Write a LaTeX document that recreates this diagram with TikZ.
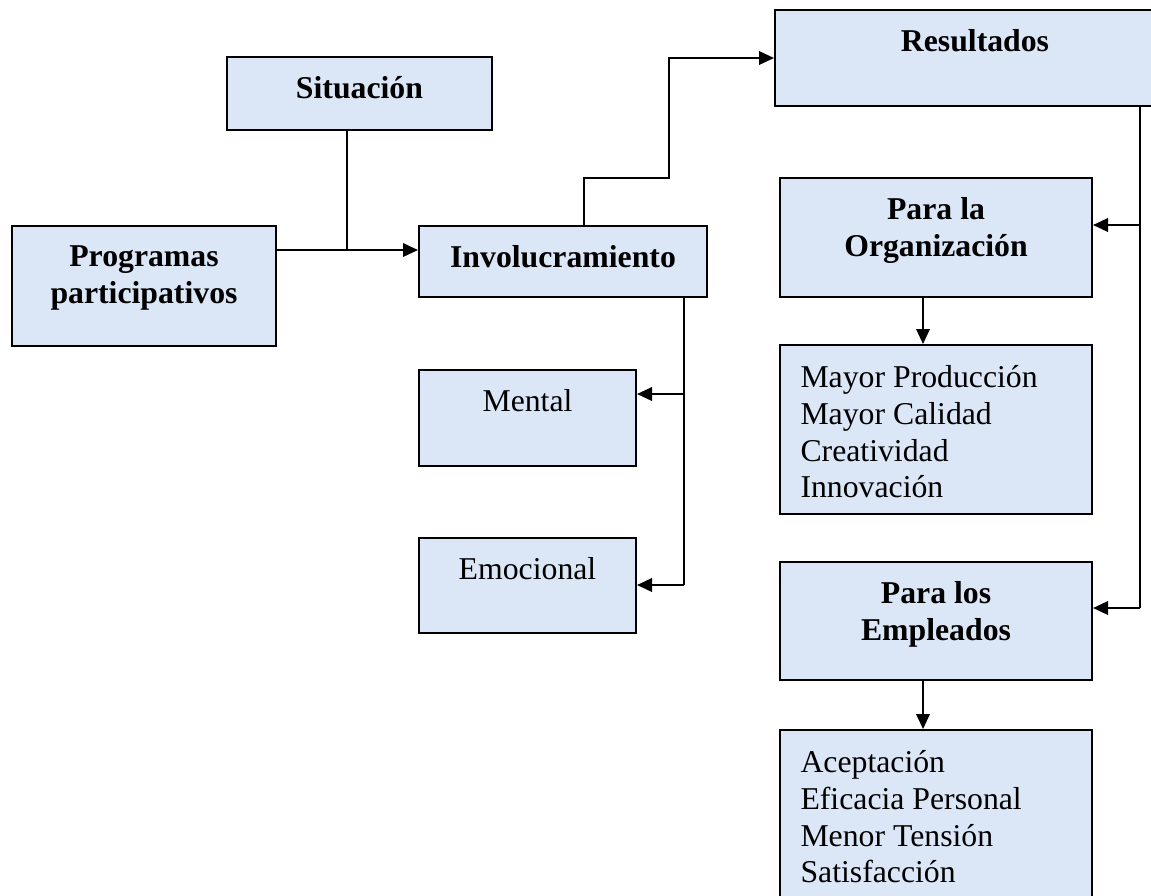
\documentclass[tikz,border=0pt]{standalone}
\usepackage{fontspec}
\setmainfont{Liberation Serif}
\usetikzlibrary{arrows.meta,positioning}
\definecolor{paper}{RGB}{219,230,246}

\begin{document}
\begin{tikzpicture}[x=0.4pt, y=-0.4pt, >={Triangle[length=6pt,width=5.4pt]},
  box/.style={draw, line width=0.8pt, fill=paper, inner sep=0pt},
  head/.style={inner sep=0pt, align=center, font=\fontsize{12.7}{14.7}\selectfont\bfseries},
  body/.style={inner sep=0pt, align=left, font=\fontsize{12.7}{14.7}\selectfont},
  link/.style={line width=0.8pt}]
  \clip (0,0) rectangle (1151,895);
  % boxes
  \node[box, minimum width=106pt, minimum height=29.2pt] (sit) at (359.5,93.5) {};
  \node[box, minimum width=105.6pt, minimum height=48pt] (prog) at (144,286) {};
  \node[box, minimum width=115.2pt, minimum height=28.4pt] (inv) at (563,261.5) {};
  \node[box, minimum width=86.8pt, minimum height=38.4pt] (ment) at (527.5,418) {};
  \node[box, minimum width=86.8pt, minimum height=38pt] (emo) at (527.5,585.5) {};
  \node[box, minimum width=160pt, minimum height=38.4pt] (res) at (975,58) {};
  \node[box, minimum width=124.8pt, minimum height=47.6pt] (org) at (936,237.5) {};
  \node[box, minimum width=124.8pt, minimum height=67.6pt] (orglist) at (936,429.5) {};
  \node[box, minimum width=124.8pt, minimum height=47.2pt] (emp) at (936,621) {};
  \node[box, minimum width=124.8pt, minimum height=80pt] (emplist) at (936,830) {};
  % texts
  \node[head, below=8pt of sit.north] (sitT) {Situación};
  \node[head, below=8pt of prog.north] (progT) {Programas\\participativos};
  \node[head, below=8pt of inv.north] (invT) {Involucramiento};
  \node[body, below=8pt of ment.north] (mentT) {Mental};
  \node[body, below=8pt of emo.north] (emoT) {Emocional};
  \node[head, below=8pt of res.north] (resT) {Resultados};
  \node[head, below=8pt of org.north] (orgT) {Para la\\Organización};
  \node[body, below right=8.4pt and 8.4pt of orglist.north west] (orglistT)
    {Mayor Producción\\Mayor Calidad\\Creatividad\\Innovación};
  \node[head, below=8pt of emp.north] (empT) {Para los\\Empleados};
  \node[body, below right=8.4pt and 8.4pt of emplist.north west] (emplistT)
    {Aceptación\\Eficacia Personal\\Menor Tensión\\Satisfacción};
  % connectors
  \coordinate (j) at (347,250);
  \draw[link] (sit.south -| j) -- (j);
  \draw[link,->] (prog.east |- j) -- (inv.west |- j);
  \coordinate (u1) at (584,178);
  \coordinate (u2) at (669,58);
  \draw[link,->] (inv.north -| u1) -- (u1) -| (u2) -- (res.west);
  \coordinate (m1) at (684,394);
  \coordinate (m2) at (684,585);
  \draw[link] (inv.south -| m1) -- (m2);
  \draw[link,->] (m1) -- (ment.east |- m1);
  \draw[link,->] (m2) -- (emo.east |- m2);
  \coordinate (r1) at (1140,225);
  \coordinate (r2) at (1140,608);
  \draw[link] (res.south -| r1) -- (r2);
  \draw[link,->] (r1) -- (org.east |- r1);
  \draw[link,->] (r2) -- (emp.east |- r2);
  \draw[link,->] ([xshift=-5.2pt]org.south) -- ([xshift=-5.2pt]orglist.north);
  \draw[link,->] ([xshift=-5.2pt]emp.south) -- ([xshift=-5.2pt]emplist.north);
\end{tikzpicture}
\end{document}
